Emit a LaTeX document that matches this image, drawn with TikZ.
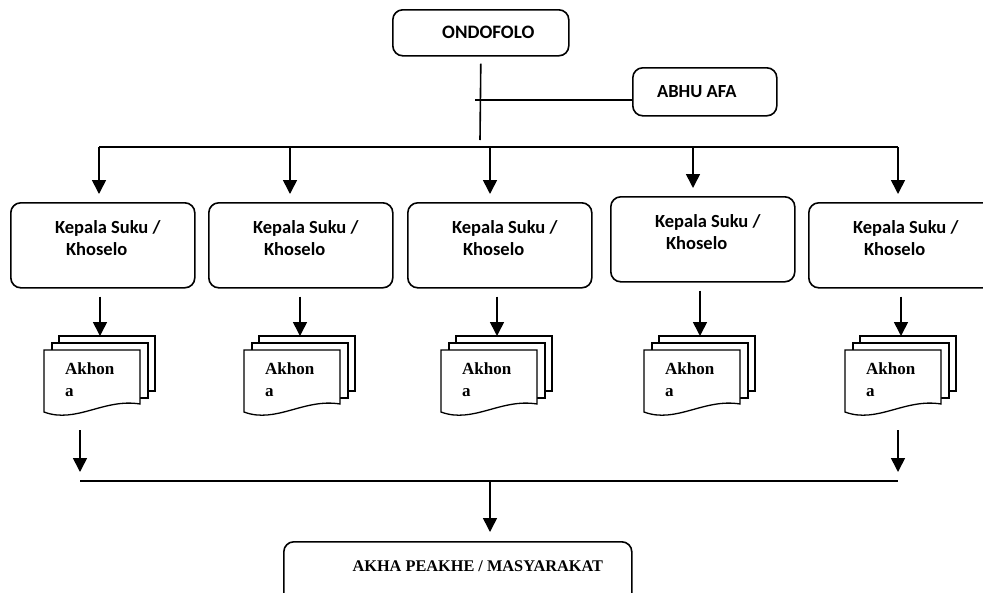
\documentclass[tikz,border=0pt]{standalone}
\usepackage{fontspec}
\setmainfont{Liberation Serif}
\newfontfamily\calibri{Carlito}
\usetikzlibrary{arrows.meta}

\tikzset{
  sheet/.style={draw, fill=white, line width=1.3pt, line join=miter},
  doctext/.style={inner sep=0pt, align=left, font=\bfseries\fontsize{17}{22}\selectfont},
  pics/akhona/.style={code={
    \draw[sheet] (-41,-7) rectangle (55,48);
    \draw[sheet] (-48,0) rectangle (48,55);
    \draw[sheet] (-56,7) -- (40,7) -- (40,61) .. controls (4,55) and (-24,81) .. (-56,69) -- cycle;
    \node[doctext, anchor=north west] (-txt) at (-35,19) {Akhon\\a};
    \coordinate (-top) at (0,-7);
    \coordinate (-out) at (0,87);
  }}
}

\begin{document}
\begin{tikzpicture}[
        x=1pt, y=-1pt,
        box/.style={rectangle, draw, rounded corners=10pt, line width=1.6pt, anchor=north west,
            font=\calibri\bfseries\fontsize{18.5}{22}\selectfont},
        kepalabox/.style={box, minimum width=184pt, minimum height=85pt, align=left,
            text height=33pt, text depth=12pt},
        line/.style={line width=1.6pt},
        arrow/.style={-{Triangle[width=14pt,length=14pt]}, line width=1.6pt}
    ]
    \clip (0,0) rectangle (983,592);

    % Ondofolo and Abhu Afa
    \node[box, minimum width=176pt, minimum height=46pt, font=\calibri\bfseries\fontsize{19}{22}\selectfont] (ondofolo) at (392,9) {\hspace*{15pt}ONDOFOLO};
    \node[box, minimum width=144pt, minimum height=48pt] (abhuafa) at (632,67) {ABHU AFA\hspace*{16pt}};
    \coordinate (j1) at (475,100);
    \coordinate (j2) at (480,140);
    \draw[line] ([yshift=-7pt]ondofolo.south) -- (j2);
    \draw[line] (j1) -- (j1 -| abhuafa.west);

    % Kepala Suku / Khoselo
    \foreach \x/\y [count=\i] in {10/202, 208/202, 407/202, 610/196, 808/202}
        \node[kepalabox] (kepala\i) at (\x,\y) {\hspace*{10pt}Kepala Suku /\\\hspace*{21pt}Khoselo};

    % Upper bus
    \foreach \x [count=\i] in {99,290,490,693,898}
        \coordinate (b\i) at (\x,147);
    \draw[line] (b1) -- (b5);
    \foreach \i in {1,...,5}
        \draw[arrow, shorten >=8pt] (b\i) -- (b\i |- kepala\i.north);

    % Akhona
    \foreach \x [count=\i] in {100,300,497,700,901}
        \pic (akhona\i) at (\x,343) {akhona};
    \foreach \i in {1,...,5}
        \draw[arrow, shorten <=8pt] (kepala\i.south -| akhona\i-top) -- (akhona\i-top);

    % Lower bus
    \coordinate (m1) at (80,481);
    \coordinate (m2) at (490,481);
    \coordinate (m3) at (898,481);
    \draw[line] (m1) -- (m3);
    \draw[arrow, shorten >=9pt] (m1 |- akhona1-out) -- (m1);
    \draw[arrow, shorten >=9pt] (m3 |- akhona5-out) -- (m3);

    % Akha Peakhe / Masyarakat
    \node[box, minimum width=348pt, minimum height=70pt, text height=12pt, text depth=22pt,
        font=\bfseries\fontsize{16.3}{22}\selectfont] (masyarakat) at (283,541) {\hspace*{40pt}AKHA PEAKHE / MASYARAKAT};
    \draw[arrow, shorten >=9pt] (m2) -- (m2 |- masyarakat.north);

\end{tikzpicture}
\end{document}
